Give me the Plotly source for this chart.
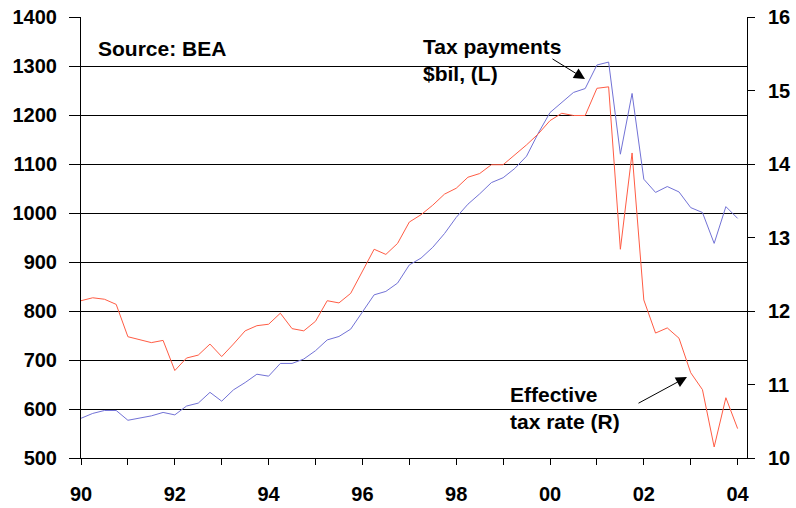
import plotly.graph_objects as go

# Quarterly observations, 1990Q1 .. 2004Q1
start_year = 1990
n_quarters = 57
quarters = [start_year + i / 4 for i in range(n_quarters)]

tax_payments = [
    581, 591, 597, 597, 577, 582, 586, 593, 588, 606,
    612, 634, 616, 639, 654, 671, 667, 693, 693, 702,
    719, 741, 748, 763, 799, 833, 840, 857, 894, 908,
    930, 958, 991, 1018, 1039, 1062, 1072, 1091, 1116, 1163,
    1205, 1226, 1246, 1254, 1302, 1308, 1120, 1244, 1069, 1042,
    1054, 1043, 1011, 1001, 938, 1013, 989,
]

effective_rate = [
    12.14, 12.18, 12.16, 12.09, 11.65, 11.61, 11.57, 11.60, 11.19, 11.36,
    11.40, 11.55, 11.38, 11.55, 11.73, 11.80, 11.82, 11.97, 11.76, 11.73,
    11.86, 12.14, 12.11, 12.24, 12.53, 12.84, 12.77, 12.92, 13.21, 13.31,
    13.44, 13.59, 13.67, 13.82, 13.87, 13.99, 13.99, 14.12, 14.26, 14.41,
    14.59, 14.69, 14.66, 14.66, 15.03, 15.05, 12.84, 14.15, 12.15, 11.70,
    11.77, 11.63, 11.16, 10.93, 10.15, 10.82, 10.40,
]

year_ticks = list(range(1990, 2005))
year_labels = ["90", "", "92", "", "94", "", "96", "", "98", "", "00", "", "02", "", "04"]
left_ticks = list(range(500, 1401, 100))
right_ticks = list(range(10, 17))

FONT = "Liberation Sans, Arial, Helvetica, sans-serif"
W, H = 796, 508
L, R, T, B = 81, 747, 17, 458


def px(x):
    return (x - L) / (R - L)


def py(y):
    return (B - y) / (B - T)


fig = go.Figure()
fig.add_trace(go.Scatter(x=quarters, y=tax_payments, mode="lines",
                         line=dict(color="#7272D6", width=1), yaxis="y", xaxis="x",
                         showlegend=False, hoverinfo="skip"))
fig.add_trace(go.Scatter(x=quarters, y=effective_rate, mode="lines",
                         line=dict(color="#FF5C44", width=1), yaxis="y2", xaxis="x",
                         showlegend=False, hoverinfo="skip"))

tickfont = dict(family=FONT, size=20, color="black", weight="bold")
xr = [1990, 2004.2]

fig.update_layout(
    width=W, height=H,
    margin=dict(l=L, r=W - R, t=T, b=H - B, pad=0, autoexpand=False),
    paper_bgcolor="white", plot_bgcolor="white",
    showlegend=False,
    xaxis=dict(range=xr, tickmode="array", tickvals=year_ticks, ticktext=year_labels,
               ticks="outside", ticklen=6, tickwidth=1, tickcolor="black",
               showline=True, linecolor="black", linewidth=1, showgrid=False,
               zeroline=False, tickfont=tickfont, ticklabelstandoff=12, anchor="y",
               automargin=False),
    xaxis2=dict(range=xr, overlaying="x", anchor="y", side="bottom", tickmode="array",
                tickvals=year_ticks, ticks="inside", ticklen=6, tickwidth=1,
                tickcolor="black", showticklabels=False, showline=False,
                showgrid=False, zeroline=False, automargin=False),
    yaxis=dict(range=[500, 1400], tickmode="array", tickvals=left_ticks,
               ticks="outside", ticklen=11, tickwidth=1, tickcolor="black",
               showline=True, linecolor="black", linewidth=1,
               showgrid=True, gridcolor="black", gridwidth=1,
               zeroline=False, tickfont=tickfont, ticklabelstandoff=8,
               automargin=False),
    yaxis2=dict(range=[10, 16], overlaying="y", side="right", anchor="x",
                tickmode="array", tickvals=right_ticks,
                ticks="outside", ticklen=7, tickwidth=1, tickcolor="black",
                showline=True, linecolor="black", linewidth=1, showgrid=False,
                zeroline=False, tickfont=tickfont, ticklabelstandoff=9,
                automargin=False),
    yaxis3=dict(range=[10, 16], overlaying="y", side="right", anchor="x",
                tickmode="array", tickvals=right_ticks,
                ticks="inside", ticklen=7, tickwidth=1, tickcolor="black",
                showticklabels=False, showline=False, showgrid=False, zeroline=False,
                automargin=False),
)

# white boxes behind the labels (hide gridlines, not data)
fig.add_shape(type="rect", xref="paper", yref="paper", layer="between",
              x0=px(412), x1=px(580), y0=py(88), y1=py(28),
              fillcolor="white", line=dict(width=0))
fig.add_shape(type="rect", xref="paper", yref="paper", layer="between",
              x0=px(499), x1=px(637), y0=py(438), y1=py(382),
              fillcolor="white", line=dict(width=0))

annfont = dict(family=FONT, size=21, color="black", weight="bold")
fig.add_annotation(xref="paper", yref="paper", x=px(96), y=py(48), text="Source: BEA",
                   showarrow=False, xanchor="left", yanchor="middle", align="left",
                   font=annfont)
fig.add_annotation(xref="paper", yref="paper", x=px(421), y=py(60),
                   text="Tax payments<br>$bil, (L)",
                   showarrow=False, xanchor="left", yanchor="middle", align="left",
                   font=annfont)
fig.add_annotation(xref="paper", yref="paper", x=px(508), y=py(408),
                   text="Effective<br>tax rate (R)",
                   showarrow=False, xanchor="left", yanchor="middle", align="left",
                   font=annfont)

# arrows
fig.add_annotation(xref="paper", yref="paper", axref="pixel", ayref="pixel",
                   x=px(585), y=py(79), ax=-34, ay=-21, text="", showarrow=True,
                   arrowhead=2, arrowsize=2.2, arrowwidth=1, arrowcolor="black",
                   standoff=0)
fig.add_annotation(xref="paper", yref="paper", axref="pixel", ayref="pixel",
                   x=px(687), y=py(377), ax=-50, ay=27, text="", showarrow=True,
                   arrowhead=2, arrowsize=2.2, arrowwidth=1, arrowcolor="black",
                   standoff=0)

fig.write_html("out.html", config={"displayModeBar": False},
               post_script="document.body.style.margin='0';")
